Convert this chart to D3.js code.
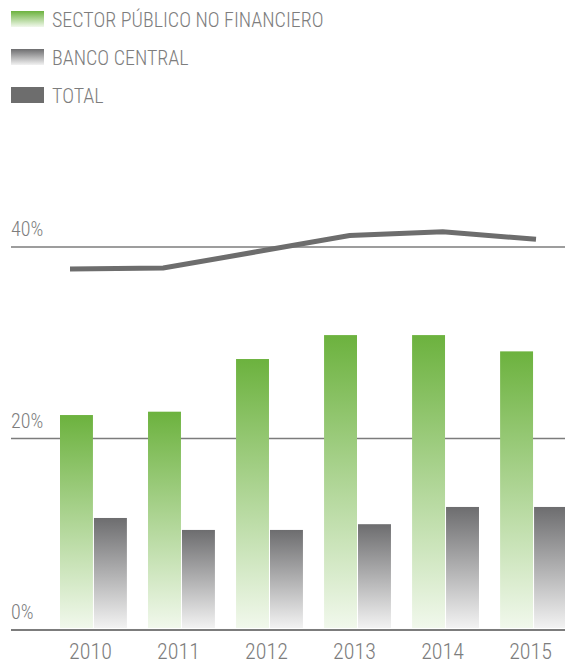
<!DOCTYPE html>
<html lang="es">
<head>
  <meta charset="UTF-8">
  <title>Deuda pública</title>
  <script src="https://d3js.org/d3.v7.min.js"></script>
  <style>
    body { margin: 0; background: #fff; }
    text {
      font-family: "Liberation Sans Narrow", "Roboto Condensed", "DejaVu Sans Condensed", sans-serif;
      font-weight: 300;
      fill: #7d7d7d;
    }
  </style>
</head>
<body>
<div id="chart"></div>
<script>

// data (% )
var years = ["2010", "2011", "2012", "2013", "2014", "2015"];
var sectorPublico = [22.45, 22.8, 28.3, 30.8, 30.8, 29.1];
var bancoCentral = [11.7, 10.45, 10.45, 11.05, 12.85, 12.85];
var total = [37.7, 37.8, 39.5, 41.2, 41.6, 40.8];
var yTicks = [0, 20, 40];
var legendLabels = ["SECTOR PÚBLICO NO FINANCIERO", "BANCO CENTRAL", "TOTAL"];

var width = 565, height = 666;

var svg = d3.select("#chart")
  .append("svg")
    .attr("width", width)
    .attr("height", height);

// gradients for the bars
var defs = svg.append("defs");
function gradient(id, top, bottom) {
  var g = defs.append("linearGradient")
    .attr("id", id)
    .attr("x1", 0).attr("y1", 0)
    .attr("x2", 0).attr("y2", 1);
  g.append("stop").attr("offset", "0%").attr("stop-color", top);
  g.append("stop").attr("offset", "100%").attr("stop-color", bottom);
}
gradient("gGreen", "#6cb23e", "#f1f8ec");
gradient("gGray", "#6d6d6f", "#f2f2f2");

// scales
var y = d3.scaleLinear()
  .domain([0, 40])
  .range([630, 247]);

var x = d3.scaleBand()
  .domain(years)
  .range([60, 567])
  .paddingInner(0.24)
  .paddingOuter(0);

var sub = d3.scaleBand()
  .domain(["spnf", "bc"])
  .range([0, x.bandwidth()])
  .paddingInner(0.03);

var xLine = d3.scalePoint()
  .domain(years)
  .range([70, 536]);

// gridlines + tick labels
var grid = svg.append("g");
grid.selectAll("line")
  .data(yTicks)
  .enter().append("line")
    .attr("x1", 11)
    .attr("x2", width)
    .attr("y1", function(d) { return y(d); })
    .attr("y2", function(d) { return y(d); })
    .attr("stroke", "#7c7c7c")
    .attr("stroke-width", function(d) { return d === 0 ? 2 : 1.3; });

grid.selectAll("text")
  .data(yTicks)
  .enter().append("text")
    .attr("x", 11)
    .attr("y", function(d) { return y(d) - 11; })
    .attr("font-size", 20)
    .text(function(d) { return d + "%"; });

// bars
var groups = svg.selectAll(".year")
  .data(years)
  .enter().append("g")
    .attr("class", "year")
    .attr("transform", function(d) { return "translate(" + x(d) + ",0)"; });

groups.append("rect")
  .attr("x", sub("spnf"))
  .attr("width", sub.bandwidth())
  .attr("y", function(d, i) { return y(sectorPublico[i]); })
  .attr("height", function(d, i) { return y(0) - y(sectorPublico[i]) - 2; })
  .attr("fill", "url(#gGreen)");

groups.append("rect")
  .attr("x", sub("bc"))
  .attr("width", sub.bandwidth())
  .attr("y", function(d, i) { return y(bancoCentral[i]); })
  .attr("height", function(d, i) { return y(0) - y(bancoCentral[i]) - 2; })
  .attr("fill", "url(#gGray)");

// year labels
groups.append("text")
  .attr("x", x.bandwidth() / 2 - 3)
  .attr("y", 659)
  .attr("text-anchor", "middle")
  .attr("font-size", 22)
  .text(function(d) { return d; });

// total line
var line = d3.line()
  .x(function(d, i) { return xLine(years[i]); })
  .y(function(d) { return y(d); });

svg.append("path")
  .datum(total)
  .attr("d", line)
  .attr("fill", "none")
  .attr("stroke", "#6d6d6d")
  .attr("stroke-width", 5);

// legend
var legendFills = ["url(#gGreen)", "url(#gGray)", "#6d6d6d"];
var legend = svg.selectAll(".legend")
  .data(legendLabels)
  .enter().append("g")
    .attr("class", "legend")
    .attr("transform", function(d, i) { return "translate(11," + (11 + i * 38) + ")"; });

legend.append("rect")
  .attr("width", 33)
  .attr("height", 16)
  .attr("fill", function(d, i) { return legendFills[i]; });

legend.append("text")
  .attr("x", 41)
  .attr("y", 16)
  .attr("font-size", 20)
  .text(function(d) { return d; });

</script>
</body>
</html>
